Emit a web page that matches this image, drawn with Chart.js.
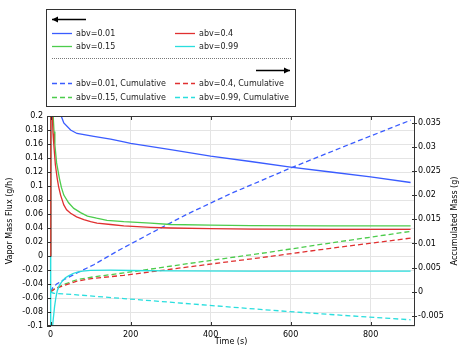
<!DOCTYPE html>
<html>
<head>
<meta charset="utf-8">
<script src="https://cdn.jsdelivr.net/npm/chart.js@4.4.0/dist/chart.umd.min.js"></script>
<style>
  html, body { margin: 0; padding: 0; background: #fff; }
  #wrap { position: relative; width: 468px; height: 351px; }
</style>
</head>
<body>
<div id="wrap"><canvas id="chart" width="468" height="351"></canvas></div>
<script>
// ===== Data =====
const labels = ['abv=0.01', 'abv=0.15', 'abv=0.4', 'abv=0.99'];
const colors = ['#3a5cff', '#4ccc4c', '#e03030', '#2adede'];

// vapor mass flux (g/h), left axis
const tFlux001 = [0, 0.5, 5, 10, 15, 20, 26.5, 33, 50, 66, 108, 150, 183, 200, 300, 400, 500, 600, 700, 800, 900];
const flux001 = [0, 1.5, 0.6, 0.35, 0.27, 0.23, 0.2, 0.19, 0.18, 0.175, 0.171, 0.167, 0.163, 0.161, 0.152, 0.1427, 0.135, 0.127, 0.12, 0.113, 0.105];

const tFlux015 = [0, 0.5, 3, 5, 6.5, 8.5, 10.7, 15, 22, 27, 33, 45, 58, 75, 92, 115, 141, 183, 250, 300, 400, 500, 700, 900];
const flux015 = [0, 0.9, 0.35, 0.24, 0.2, 0.178, 0.159, 0.133, 0.111, 0.098, 0.087, 0.076, 0.068, 0.062, 0.057, 0.054, 0.051, 0.049, 0.047, 0.045, 0.044, 0.0435, 0.043, 0.043];

const tFlux04 = [0, 0.5, 2, 3, 4, 6, 8, 12, 16.5, 20, 25, 33, 40, 50, 65, 83, 100, 116, 150, 183, 250, 300, 400, 500, 700, 900];
const flux04 = [0, 0.8, 0.35, 0.26, 0.205, 0.175, 0.159, 0.13, 0.111, 0.099, 0.087, 0.073, 0.066, 0.061, 0.056, 0.052, 0.049, 0.047, 0.045, 0.043, 0.041, 0.04, 0.039, 0.0385, 0.038, 0.038];

const tFlux099 = [0, 0.3, 2, 5, 7, 10, 13, 16.5, 22, 29, 37, 46, 56, 67, 80, 100, 150, 200, 300, 500, 900];
const flux099 = [0, -0.2, -0.16, -0.1, -0.088, -0.072, -0.06, -0.05, -0.042, -0.036, -0.031, -0.028, -0.025, -0.023, -0.0215, -0.0205, -0.0203, -0.0207, -0.0213, -0.0215, -0.0215];

// accumulated mass (g), right axis
const tMass001 = [0, 5, 15, 33, 66, 108, 173, 250, 340, 450, 600, 750, 900];
const mass001 = [0, 0.0008, 0.0016, 0.0025, 0.0039, 0.0056, 0.0087, 0.0121, 0.016, 0.0203, 0.0256, 0.0306, 0.0355];

const tMass015 = [0, 10, 33, 66, 108, 183, 350, 548, 700, 900];
const mass015 = [0, 0.0006, 0.0015, 0.0025, 0.0031, 0.0039, 0.0059, 0.0082, 0.0101, 0.0125];

const tMass04 = [0, 10, 33, 66, 108, 183, 350, 548, 700, 900];
const mass04 = [0, 0.0006, 0.0013, 0.0022, 0.0028, 0.0034, 0.0052, 0.0073, 0.009, 0.0111];

const tMass099 = [0, 3, 8, 60, 183, 350, 548, 700, 900];
const mass099 = [0, -0.0002, -0.0003, -0.0006, -0.0014, -0.0025, -0.0038, -0.0047, -0.0058];

// tick values
const xTicks = [0, 200, 400, 600, 800];
const fluxTicks = [-0.1, -0.08, -0.06, -0.04, -0.02, 0, 0.02, 0.04, 0.06, 0.08, 0.1, 0.12, 0.14, 0.16, 0.18, 0.2];
const massTicks = [-0.005, 0, 0.005, 0.01, 0.015, 0.02, 0.025, 0.03, 0.035];

const rightTitle = 'Accumulated Mass (g)';
const FONT = 'DejaVu Sans';

// ===== Build datasets =====
function pts(ts, vs) {
    return ts.map((t, i) => ({ x: t, y: vs[i] }));
}

const fluxSeries = [[tFlux001, flux001], [tFlux015, flux015], [tFlux04, flux04], [tFlux099, flux099]];
const massSeries = [[tMass001, mass001], [tMass015, mass015], [tMass04, mass04], [tMass099, mass099]];

const datasets = [];
fluxSeries.forEach((s, i) => {
    datasets.push({
        label: labels[i],
        data: pts(s[0], s[1]),
        borderColor: colors[i],
        borderWidth: 1.3,
        yAxisID: 'y',
        order: 10 - i
    });
});
massSeries.forEach((s, i) => {
    datasets.push({
        label: labels[i] + ', Cumulative',
        data: pts(s[0], s[1]),
        borderColor: colors[i],
        borderWidth: 1.3,
        borderDash: [5, 3],
        yAxisID: 'y2',
        order: 20 - i
    });
});

// ===== Frame, inward ticks, right title and legend =====
const decorPlugin = {
    id: 'decor',
    afterDraw(chart) {
        const ctx = chart.ctx;
        const a = chart.chartArea;
        const sx = chart.scales.x, sy = chart.scales.y, sy2 = chart.scales.y2;
        ctx.save();
        ctx.strokeStyle = '#333';
        ctx.lineWidth = 1;
        ctx.strokeRect(a.left + 0.5, a.top + 0.5, a.right - a.left - 1, a.bottom - a.top - 1);

        ctx.beginPath();
        xTicks.forEach(v => {
            const px = Math.round(sx.getPixelForValue(v)) + 0.5;
            ctx.moveTo(px, a.bottom); ctx.lineTo(px, a.bottom - 4);
            ctx.moveTo(px, a.top); ctx.lineTo(px, a.top + 4);
        });
        fluxTicks.forEach(v => {
            const py = Math.round(sy.getPixelForValue(v)) + 0.5;
            ctx.moveTo(a.left, py); ctx.lineTo(a.left + 4, py);
        });
        massTicks.forEach(v => {
            const py = Math.round(sy2.getPixelForValue(v)) + 0.5;
            ctx.moveTo(a.right - 3, py); ctx.lineTo(a.right + 2, py);
        });
        ctx.stroke();

        // right axis title, reading bottom to top
        ctx.fillStyle = '#000';
        ctx.font = '8px "' + FONT + '"';
        ctx.textAlign = 'center';
        ctx.textBaseline = 'middle';
        ctx.translate(455, (a.top + a.bottom) / 2);
        ctx.rotate(-Math.PI / 2);
        ctx.fillText(rightTitle, 0, 0);
        ctx.restore();

        // legend
        ctx.save();
        ctx.strokeStyle = '#333';
        ctx.lineWidth = 1;
        ctx.strokeRect(46.5, 9.5, 249, 97);

        function arrow(x1, x2, y, dir) {
            ctx.strokeStyle = '#000';
            ctx.fillStyle = '#000';
            ctx.lineWidth = 1.5;
            ctx.setLineDash([]);
            ctx.beginPath();
            ctx.moveTo(x1, y); ctx.lineTo(x2, y);
            ctx.stroke();
            const tip = dir < 0 ? x1 : x2;
            ctx.beginPath();
            ctx.moveTo(tip, y);
            ctx.lineTo(tip - dir * 6, y - 3);
            ctx.lineTo(tip - dir * 6, y + 3);
            ctx.closePath();
            ctx.fill();
        }
        arrow(52, 86, 19.5, -1);
        arrow(256, 290, 70.5, 1);

        ctx.strokeStyle = '#777';
        ctx.lineWidth = 1;
        ctx.setLineDash([1, 1]);
        ctx.beginPath();
        ctx.moveTo(52, 58.5); ctx.lineTo(291, 58.5);
        ctx.stroke();

        const cols = [52, 175];
        const rows = [33, 46, 83, 97];
        ctx.font = '8px "' + FONT + '"';
        ctx.textAlign = 'left';
        ctx.textBaseline = 'middle';
        datasets.forEach((d, i) => {
            const series = i % 4;
            const col = series < 2 ? 0 : 1;
            const row = (series % 2) + (i >= 4 ? 2 : 0);
            const x = cols[col], y = rows[row] + 0.5;
            ctx.strokeStyle = d.borderColor;
            ctx.lineWidth = 1.3;
            ctx.setLineDash(d.borderDash || []);
            ctx.beginPath();
            ctx.moveTo(x, y); ctx.lineTo(x + 20, y);
            ctx.stroke();
            ctx.fillStyle = '#222';
            ctx.fillText(d.label, x + 24, y);
        });
        ctx.restore();
    }
};

const tickFont = { family: FONT, size: 8 };
const fmt = v => String(parseFloat(Number(v).toFixed(4)));

new Chart(document.getElementById('chart'), {
    type: 'line',
    data: { datasets: datasets },
    options: {
        responsive: false,
        animation: false,
        events: [],
        layout: { padding: { top: 116, left: 0, right: 0, bottom: 0 } },
        elements: { point: { radius: 0 }, line: { tension: 0 } },
        plugins: { legend: { display: false }, tooltip: { enabled: false } },
        scales: {
            x: {
                type: 'linear',
                min: -9,
                max: 911,
                afterBuildTicks: s => { s.ticks = xTicks.map(v => ({ value: v })); },
                afterFit: s => { s.height = 25; },
                grid: { color: '#e4e4e4', drawTicks: false },
                border: { display: false },
                ticks: { font: tickFont, color: '#000', padding: 4, maxRotation: 0, callback: fmt },
                title: { display: true, text: 'Time (s)', font: tickFont, color: '#000', padding: { top: 0, bottom: 4 } }
            },
            y: {
                type: 'linear',
                position: 'left',
                min: -0.1,
                max: 0.2,
                afterBuildTicks: s => { s.ticks = fluxTicks.map(v => ({ value: v })); },
                afterFit: s => { s.width = 47; },
                grid: { color: '#e4e4e4', drawTicks: false },
                border: { display: false },
                ticks: { font: tickFont, color: '#000', padding: 4, callback: fmt },
                title: { display: true, text: 'Vapor Mass Flux (g/h)', font: tickFont, color: '#000', padding: { top: 5, bottom: 0 } }
            },
            y2: {
                type: 'linear',
                position: 'right',
                min: -0.00708,
                max: 0.03637,
                afterBuildTicks: s => { s.ticks = massTicks.map(v => ({ value: v })); },
                afterFit: s => { s.width = 53; },
                grid: { display: false, drawTicks: false },
                border: { display: false },
                ticks: { font: tickFont, color: '#000', padding: 3, callback: fmt }
            }
        }
    },
    plugins: [decorPlugin]
});
</script>
</body>
</html>
